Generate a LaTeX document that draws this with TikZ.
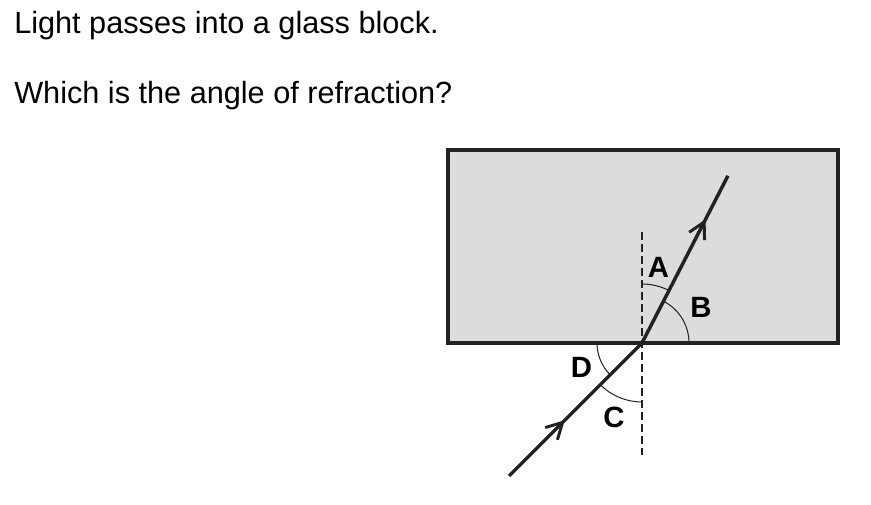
\documentclass[tikz,border=0pt]{standalone}
\usepackage{fontspec}
\setmainfont{Liberation Sans}
\usetikzlibrary{arrows.meta, calc, decorations.markings}
\definecolor{glassgray}{HTML}{DCDCDC}
\definecolor{inkdark}{HTML}{222222}

\begin{document}
\begin{tikzpicture}[x=0.75pt, y=0.75pt]
    \useasboundingbox (0,0) rectangle (871,-505);

    % Question
    \node[anchor=base west, inner sep=0, font=\fontsize{23}{27}\selectfont] (line1) at (14,-34) {Light passes into a glass block.};
    \node[anchor=base west, inner sep=0, font=\fontsize{23}{27}\selectfont] (line2) at (14,-104) {Which is the angle of refraction?};

    % Glass block
    \draw[draw=inkdark, fill=glassgray, line width=3pt] (448,-150) rectangle (838,-343);

    % Normal and rays
    \coordinate (hit) at (642,-343);
    \coordinate (normtop) at (642,-232);
    \coordinate (normbot) at (642,-455);
    \coordinate (src) at ($(hit)+(225:188)$);
    \coordinate (dst) at ($(hit)+(62.8:188)$);
    \draw[inkdark, line width=0.8pt, dash pattern=on 6pt off 3pt] (normtop) -- (normbot);

    \draw[inkdark, line width=2.6pt, decoration={markings, mark=at position 0.42 with {\arrow{Straight Barb[length=12pt, width=13pt, line width=2.2pt]}}}, postaction={decorate}]
        (src) -- (hit);
    \draw[inkdark, line width=2.6pt, decoration={markings, mark=at position 0.74 with {\arrow{Straight Barb[length=12pt, width=13pt, line width=2.2pt]}}}, postaction={decorate}]
        (hit) -- (dst);

    % Angles
    \draw[inkdark, line width=0.75pt] (hit) ++(90:44.25pt) arc[start angle=90, end angle=62.8, radius=44.25pt];
    \draw[inkdark, line width=0.75pt] (hit) ++(0:35.25pt) arc[start angle=0, end angle=62.8, radius=35.25pt];
    \draw[inkdark, line width=0.75pt] (hit) ++(180:33.75pt) arc[start angle=180, end angle=225, radius=33.75pt];
    \draw[inkdark, line width=0.75pt] (hit) ++(225:44.25pt) arc[start angle=225, end angle=270, radius=44.25pt];

    \node[inner sep=0, font=\fontsize{22}{26}\selectfont\bfseries] (labA) at (658.5,-267) {A};
    \node[inner sep=0, font=\fontsize{22}{26}\selectfont\bfseries] (labB) at (701,-307) {B};
    \node[inner sep=0, font=\fontsize{22}{26}\selectfont\bfseries] (labC) at (614,-417.5) {C};
    \node[inner sep=0, font=\fontsize{22}{26}\selectfont\bfseries] (labD) at (581.5,-367) {D};
\end{tikzpicture}
\end{document}
